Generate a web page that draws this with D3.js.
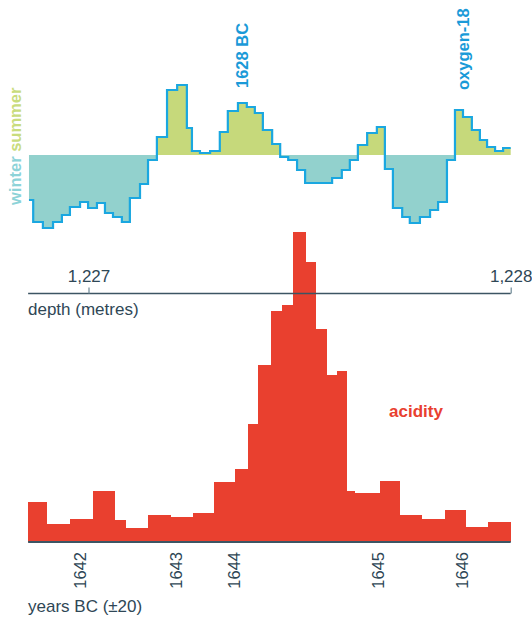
<!DOCTYPE html>
<html>
<head>
<meta charset="utf-8">
<script src="https://cdn.jsdelivr.net/npm/d3@7"></script>
<style>
  html, body { margin: 0; padding: 0; background: #fff; }
  svg { display: block; font-family: "Liberation Sans", Arial, Helvetica, sans-serif; }
</style>
</head>
<body>
<svg id="chart" width="532" height="620"></svg>
<script>
// Oxygen-18 samples: start depth of each sample (m) and anomaly (positive = summer, negative = winter)
const o18Depth = [
  1226.859, 1226.869, 1226.892, 1226.916, 1226.937, 1226.956, 1226.980, 1226.999,
  1227.020, 1227.039, 1227.058, 1227.079, 1227.098, 1227.122, 1227.141, 1227.162,
  1227.186, 1227.210, 1227.233, 1227.245, 1227.264, 1227.288, 1227.311, 1227.330,
  1227.354, 1227.375, 1227.394, 1227.413, 1227.435, 1227.454, 1227.473, 1227.494,
  1227.513, 1227.577, 1227.600, 1227.619, 1227.638, 1227.660, 1227.683, 1227.702,
  1227.721, 1227.743, 1227.761, 1227.785, 1227.809, 1227.828, 1227.849, 1227.868,
  1227.887, 1227.908, 1227.927, 1227.944, 1227.963, 1227.982
];
const o18Value = [
  -4.5, -6.7, -7.3, -6.7, -6.0, -5.2, -4.7, -5.3,
  -4.8, -5.8, -6.2, -6.7, -4.3, -2.9, -0.5, 1.8,
  6.5, 7.0, 2.7, 0.4, 0.2, 0.4, 2.3, 4.4,
  5.2, 4.8, 4.2, 2.5, 1.1, -0.2, -0.5, -1.5,
  -2.8, -2.3, -1.5, -0.5, 1.0, 2.2, 2.8, -1.4,
  -5.3, -6.2, -6.8, -6.2, -5.5, -4.7, -0.5, 4.5,
  3.8, 2.5, 1.5, 0.8, 0.4, 0.7
];
const o18End = 1228.0;

// Acidity samples: start depth of each sample (m) and acidity
const acidDepth = [
  1226.857, 1226.901, 1226.956, 1227.011, 1227.061, 1227.089, 1227.140, 1227.195,
  1227.247, 1227.297, 1227.347, 1227.378, 1227.402, 1227.432, 1227.458, 1227.485,
  1227.515, 1227.539, 1227.564, 1227.588, 1227.612, 1227.631, 1227.690, 1227.738,
  1227.789, 1227.844, 1227.893, 1227.947
];
const acidity = [
  4.0, 1.8, 2.3, 5.1, 2.2, 1.4, 2.7, 2.5,
  2.9, 6.0, 7.3, 11.8, 17.7, 23.1, 23.7, 31.0,
  28.0, 21.3, 16.7, 17.1, 5.1, 4.9, 6.1, 2.7,
  2.3, 3.2, 1.5, 2.0
];
const acidEnd = 1228.0;

// Depth axis ticks (metres)
const depthTicks = [1227, 1228];

// Layer-counted years BC and the depth at which each falls
const yearLabels = ["1642", "1643", "1644", "1645", "1646"];
const yearDepth = [1226.981, 1227.207, 1227.345, 1227.686, 1227.885];

// Annotations on the oxygen-18 series
const noteLabels = ["1628 BC", "oxygen-18"];
const noteDepth = [1227.378, 1227.901];

const C = {
  summer: "#c6d97b",
  winter: "#92d1cd",
  o18Line: "#1aa7e0",
  note: "#1a9ad8",
  red: "#e9402f",
  axis: "#3c5563",
  text: "#2f4756",
  winterText: "#8dd3d8",
  summerText: "#c9dc7d"
};

const svg = d3.select("#chart");

const x = d3.scaleLinear().domain([1227, 1228]).range([88.5, 510.7]);
const yO = d3.scaleLinear().domain([-8, 8]).range([235, 75]);
const yA = d3.scaleLinear().domain([0, 32]).range([542, 222]);

// ---- oxygen-18 step series ----
const o18 = o18Depth.map((d, i) => ({ d, v: o18Value[i] }));
o18.push({ d: o18End, v: o18Value[o18Value.length - 1] });

const posArea = d3.area().curve(d3.curveStepAfter)
  .x(p => x(p.d)).y0(yO(0)).y1(p => yO(Math.max(p.v, 0)));
const negArea = d3.area().curve(d3.curveStepAfter)
  .x(p => x(p.d)).y0(yO(0)).y1(p => yO(Math.min(p.v, 0)));
const stepLine = d3.line().curve(d3.curveStepAfter)
  .x(p => x(p.d)).y(p => yO(p.v));

svg.append("path").datum(o18).attr("d", posArea).attr("fill", C.summer);
svg.append("path").datum(o18).attr("d", negArea).attr("fill", C.winter);
svg.append("path").datum(o18).attr("d", stepLine)
  .attr("fill", "none").attr("stroke", C.o18Line).attr("stroke-width", 2.2)
  .attr("stroke-linejoin", "miter");

// winter / summer key
svg.append("text")
  .attr("transform", `translate(20.5,205) rotate(-90)`)
  .attr("font-size", 16.5).attr("font-weight", "bold")
  .call(t => {
    t.append("tspan").attr("fill", C.winterText).text("winter ");
    t.append("tspan").attr("fill", C.summerText).text("summer");
  });

// annotations
noteLabels.forEach((lab, i) => {
  svg.append("text")
    .attr("transform", `translate(${x(noteDepth[i])},${i === 0 ? 88 : 90}) rotate(-90)`)
    .attr("font-size", 16.5).attr("font-weight", "bold")
    .attr("fill", C.note).text(lab);
});

// ---- acidity bars ----
const acidRows = acidDepth.map((d, i) => ({
  d0: d, d1: i + 1 < acidDepth.length ? acidDepth[i + 1] : acidEnd, v: acidity[i]
}));
svg.append("g").selectAll("rect").data(acidRows).join("rect")
  .attr("x", r => x(r.d0))
  .attr("width", r => x(r.d1) - x(r.d0) + 0.4)
  .attr("y", r => yA(r.v))
  .attr("height", r => yA(0) - yA(r.v))
  .attr("fill", C.red)
  .attr("shape-rendering", "crispEdges");

svg.append("text").attr("x", 389).attr("y", 416.5)
  .attr("font-size", 17).attr("font-weight", "bold")
  .attr("fill", C.red).text("acidity");

// ---- depth axis ----
const depthY = 293.5;
svg.append("line")
  .attr("x1", x(acidDepth[0])).attr("x2", x(acidEnd))
  .attr("y1", depthY).attr("y2", depthY)
  .attr("stroke", C.axis).attr("stroke-width", 1.6);
const depthAxis = svg.append("g")
  .attr("transform", `translate(0,${depthY})`)
  .call(d3.axisTop(x).tickValues(depthTicks).tickFormat(d3.format(","))
    .tickSize(6).tickPadding(5.5));
depthAxis.select(".domain").remove();
depthAxis.selectAll(".tick line").attr("stroke", "#6d8896").attr("stroke-width", 1.2);
depthAxis.selectAll(".tick text")
  .attr("font-family", "Liberation Sans, Arial, sans-serif")
  .attr("font-size", 17).attr("fill", C.text);

svg.append("text").attr("x", 28).attr("y", 315)
  .attr("font-size", 17).attr("fill", C.text).text("depth (metres)");

// ---- years axis ----
svg.append("line")
  .attr("x1", x(acidDepth[0])).attr("x2", x(acidEnd))
  .attr("y1", yA(0)).attr("y2", yA(0))
  .attr("stroke", C.axis).attr("stroke-width", 1.8);

svg.append("g").selectAll("text").data(yearLabels).join("text")
  .attr("transform", (t, i) => `translate(${x(yearDepth[i])},552) rotate(-90)`)
  .attr("text-anchor", "end")
  .attr("dy", "0.35em")
  .attr("font-size", 16.5).attr("fill", C.text)
  .text(t => t);

svg.append("text").attr("x", 28).attr("y", 612)
  .attr("font-size", 17).attr("fill", C.text).text("years BC (\u00B120)");
</script>
</body>
</html>
